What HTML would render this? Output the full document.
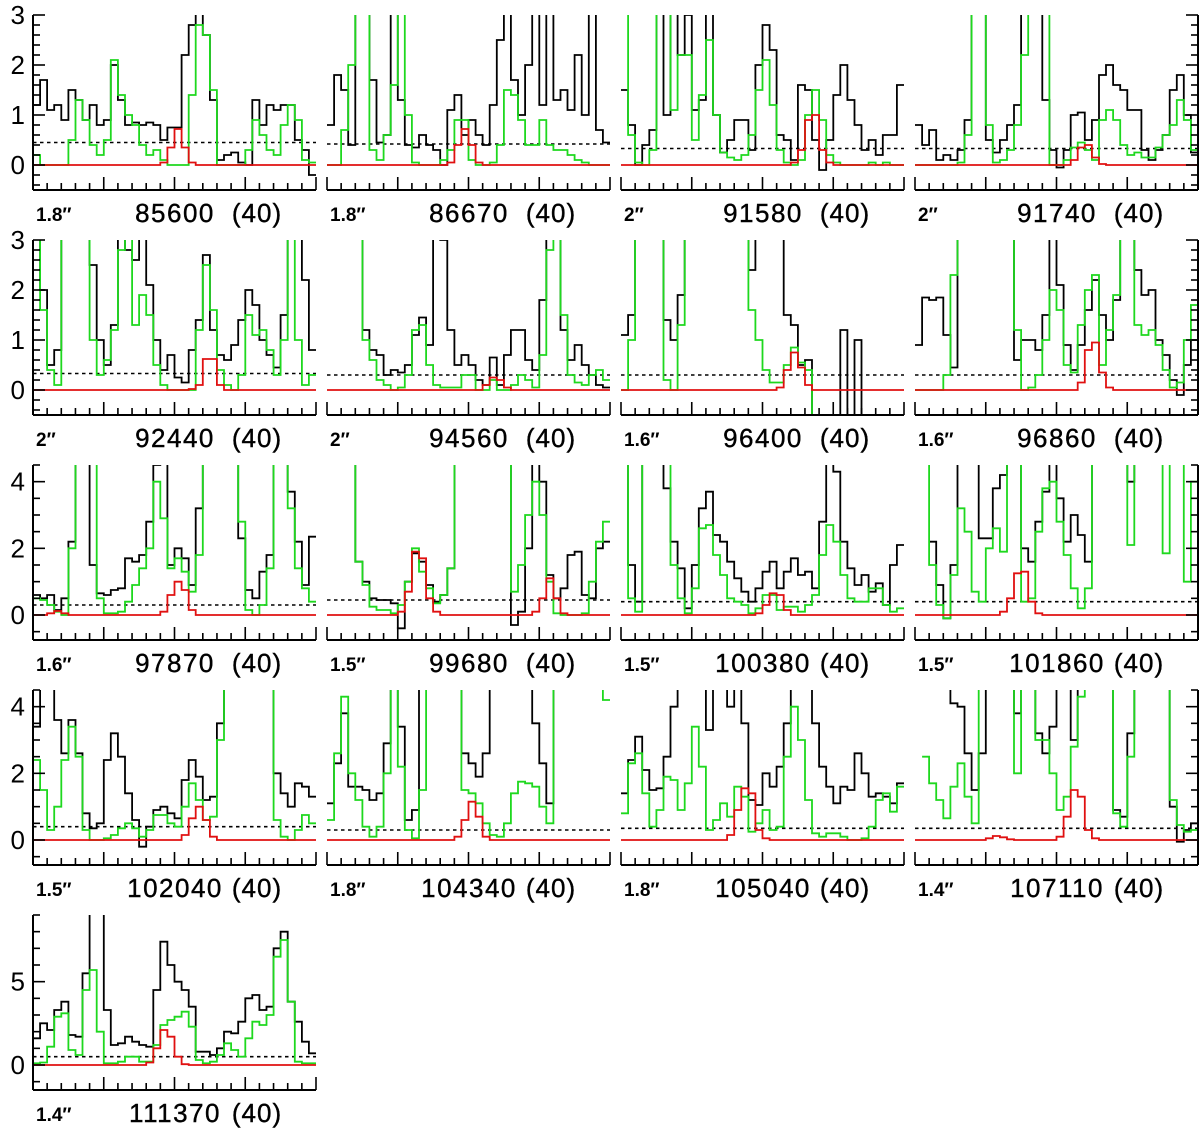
<!DOCTYPE html>
<html><head><meta charset="utf-8"><style>
html,body{margin:0;padding:0;background:#fff;}
svg{display:block;font-family:"Liberation Sans",sans-serif;}
</style></head><body>
<svg id="chart" width="1200" height="1129" viewBox="0 0 1200 1129" xmlns="http://www.w3.org/2000/svg"></svg>
<script>
const panelFreqs = [85600,86670,91580,91740,92440,94560,96400,96860,97870,99680,100380,101860,102040,104340,105040,107110,111370];
const panelBeams = ["1.8","1.8","2","2","2","2","1.6","1.6","1.6","1.5","1.5","1.5","1.5","1.8","1.8","1.4","1.4"];
const noiseLevels = [0.45,0.42,0.33,0.33,0.33,0.3,0.3,0.3,0.3,0.45,0.4,0.4,0.4,0.3,0.35,0.35,0.5];
const rowRanges = [[-0.5,3],[-0.5,3],[-0.75,4.5],[-0.75,4.5],[-1.5,9]];
const rowTickLabels = [[0,1,2,3],[0,1,2,3],[0,2,4],[0,2,4],[0,5]];
const blackFlux = [
[1.2,1.7,1.1,1.2,0.9,1.5,1.3,0.9,1.2,0.8,0.9,2.0,1.3,0.8,0.85,0.8,0.85,0.8,0.5,0.75,0.75,2.2,2.8,3.5,2.6,1.3,0.1,0.2,0.25,0.05,0.0,1.3,0.8,1.2,1.1,1.2,1.2,0.5,0.3,-0.2],
[0.8,1.8,1.5,0.4,3.5,3.5,1.7,0.45,0.6,3.5,1.3,0.4,0.35,0.6,0.4,0.3,0.0,1.1,1.4,0.6,0.9,0.6,0.4,1.2,2.5,3.5,1.7,1.0,2.0,3.5,1.2,3.5,1.3,1.5,1.1,2.2,1.0,3.5,0.7,0.45],
[1.5,0.8,0.0,0.4,0.7,3.5,1.0,3.5,2.2,3.0,1.1,1.3,3.5,1.0,0.25,0.5,0.9,0.9,0.3,2.0,2.8,2.3,0.6,0.5,0.1,1.6,1.5,0.5,-0.1,0.5,1.4,2.0,1.3,0.8,0.3,0.5,0.2,0.6,0.6,1.6],
[0.8,0.4,0.7,0.1,0.2,0.1,0.3,0.9,3.5,3.5,0.5,0.25,0.5,0.8,1.2,3.5,3.5,3.5,1.3,0.3,-0.05,0.3,1.0,1.05,0.5,0.9,1.8,2.0,1.6,1.5,1.1,1.1,0.3,0.1,0.3,0.6,1.5,1.8,1.0,0.25],
[3.5,2.0,0.5,0.8,3.5,3.5,3.5,3.5,2.5,1.0,0.5,1.3,3.5,2.8,2.6,3.5,2.1,1.0,0.4,0.7,0.25,0.15,0.8,1.4,2.7,1.2,0.7,0.6,0.9,1.4,2.0,1.7,1.0,0.7,0.45,1.5,3.5,3.5,2.2,0.8],
[null,null,null,null,3.5,1.2,0.8,0.7,0.3,0.4,0.35,0.5,1.1,1.45,0.9,3.5,3.0,1.2,0.5,0.7,0.5,0.2,0.1,0.65,0.1,0.7,1.2,1.2,0.6,0.4,1.8,3.5,3.5,1.2,0.6,0.9,0.5,0.3,0.1,0.05],
[1.1,1.5,3.5,3.5,3.5,3.5,1.4,1.0,1.9,3.5,3.5,3.5,3.5,3.5,3.5,3.5,3.5,3.5,2.4,3.5,3.5,3.5,3.5,1.5,1.3,0.5,0.6,-1,-1,-1,-1,1.2,-1,1.0,-1,null,null,null,null,null],
[0.9,1.85,1.8,1.85,1.1,0.45,3.5,3.5,3.5,3.5,3.5,3.5,3.5,3.5,0.6,1.0,1.0,0.8,1.5,3.5,2.1,0.9,0.4,0.9,1.6,2.2,1.5,1.0,1.8,3.5,3.5,2.4,1.9,2.0,1.0,0.7,0.2,-0.1,0.5,1.0],
[0.6,0.5,0.6,0.15,0.5,2.2,5,5,1.5,0.65,0.6,0.75,0.8,1.7,1.6,1.8,2.8,4.5,5,1.5,2.0,1.7,0.9,3.2,5,5,5,5,5,2.3,0.75,0.5,1.3,1.8,5,5,3.7,2.2,0.9,2.35],
[null,null,null,5,1.6,1.0,0.5,0.45,0.45,0.35,-0.4,1.0,1.85,1.6,0.9,0.4,0.6,1.4,5,5,5,5,5,5,5,5,-0.3,0.1,2.0,5,4.0,1.2,0.5,0.8,1.8,1.9,0.6,0.5,2.0,2.2],
[5,1.5,0.4,5,5,5,3.8,2.2,1.4,0.2,1.5,3.2,3.7,2.4,2.2,1.6,1.1,0.7,0.4,0.8,1.3,1.6,0.8,1.3,1.7,1.2,1.3,0.8,2.8,5,4.3,2.2,1.4,0.9,1.2,0.7,0.95,0.3,1.5,2.1],
[null,null,2.2,0.9,-0.1,1.5,5,5,5,2.3,2.3,3.8,4.2,5,5,2.0,1.6,2.8,3.7,5,3.5,2.2,3.0,2.4,1.6,5,5,5,5,5,4.0,5,5,5,5,5,5,5,5,5],
[3.4,5,5,3.6,2.6,3.6,2.6,0.8,0.35,0.5,2.4,3.2,2.5,1.4,0.6,-0.2,0.4,0.9,1.0,0.8,0.65,1.8,2.4,1.9,1.2,1.3,3.5,5,5,5,5,5,5,5,2.0,1.4,1.0,1.7,1.6,1.3],
[1.1,2.3,3.8,1.6,1.6,1.5,1.2,1.4,2.9,5,3.4,0.6,0.9,5,5,5,5,5,5,2.6,2.3,1.9,2.6,5,5,5,5,5,5,3.5,2.3,1.1,5,5,5,5,5,5,5,5],
[1.4,2.4,3.1,2.1,1.5,1.55,2.5,4.0,5,5,5,5,3.3,5,5,4.0,5,3.5,1.2,1.05,2.0,1.6,2.2,3.5,5,5,5,3.5,2.2,1.6,1.1,1.6,1.5,2.6,2.0,1.3,1.4,1.3,1.1,1.7],
[null,5,5,5,5,4.1,4.0,2.6,1.5,2.6,5,5,5,5,3.8,5,5,3.2,2.6,3.4,5,5,3.0,5,5,5,5,5,0.9,0.7,3.2,5,5,5,5,5,1.0,-0.05,0.3,0.5],
[1.6,2.5,2.1,3.3,3.8,1.8,1.7,5.5,9.5,9.5,3.3,1.2,1.3,1.7,1.4,1.2,1.1,4.5,7.4,6.0,5.0,4.5,3.5,0.8,0.8,0.6,1.0,2.0,1.9,2.6,4.0,4.2,3.3,3.5,7.0,8.0,3.8,2.6,1.4,0.7]
];
const greenFlux = [
[0.2,0,0,0,0,0.5,1.3,0.9,0.4,0.2,0.5,2.1,1.4,1.0,0.8,0.4,0.2,0.3,0.1,0,0,0,1.4,2.8,2.6,1.5,0,0,0,0,0.3,0.9,0.6,0.3,0.2,0.8,1.2,0.9,0.1,0.05],
[0,0,0.7,2.0,3.5,3.5,0.3,0.1,0.6,1.6,3.5,1.0,0.05,0,0,0,0.1,0.3,0.9,0.9,0.1,0,0,0.05,0.4,1.5,1.4,0.9,0.4,0.4,0.9,0.4,0.3,0.3,0.2,0.1,0.05,0,0,0],
[3.5,0.6,0.05,0,0.3,3.5,3.5,1.1,2.2,2.2,0.5,1.4,2.5,1.0,0.25,0.15,0.1,0.2,0.6,1.5,2.1,1.2,0.3,0.05,0,0.1,1.0,1.5,0.9,0.2,0.05,0,0,0,0,0.05,0,0.05,0,0],
[0,0,0,0,0,0,0.05,0.6,3.5,3.5,0.8,0.05,0.1,0.3,0.8,2.2,3.5,3.5,3.5,0.0,0,0.1,0.35,0.45,0.3,0.1,0.9,1.1,0.9,0.4,0.2,0.25,0.15,0.15,0.35,0.6,0.8,1.3,0.9,0.3],
[3.5,1.6,0.4,0.1,3.5,3.5,3.5,3.5,1.0,0.3,0.6,1.2,2.8,3.5,1.3,1.9,1.5,0.5,0.1,0,0,0,0,1.2,2.5,1.6,0.4,0.1,0,0.3,1.5,1.1,1.2,0.8,0.3,1.0,3.5,1.0,0.1,0.3],
[null,null,null,null,3.5,1.0,0.6,0.2,0.1,0,0.05,0.3,1.2,1.3,0.5,0.1,0.05,0.05,0.05,0.3,0.3,0,0,0.2,0,0,0.1,0.3,0.2,0.05,0.7,2.8,3.5,1.5,0.3,0.15,0.1,0.3,0.4,0.2],
[0,1.0,3.5,3.5,3.5,3.5,0.2,0.0,1.3,3.5,3.5,3.5,3.5,3.5,3.5,3.5,3.5,3.5,1.6,1.0,0.4,0.15,0.15,0.5,0.85,0.55,0.4,-1,null,null,null,null,null,null,null,null,null,null,null,null],
[0,0,0,0,0.3,2.3,3.5,3.5,3.5,3.5,3.5,3.5,3.5,3.5,1.2,0,0.05,0.3,1.0,2.0,1.6,0.5,0.35,1.3,2.0,2.3,0.5,1.2,1.9,3.5,3.5,1.3,1.1,1.2,0.9,0.4,0.05,0.15,1.0,1.7],
[0.5,0.45,0.3,0.1,0.0,2.0,5,5,5,0.5,0.05,0.05,0.1,0.4,0.9,1.4,2.0,4.0,2.9,1.4,1.7,1.3,0.7,1.8,5,5,5,5,5,2.8,0.15,0,0.3,1.4,5,5,3.2,1.4,0.8,0.4],
[null,null,null,5,1.6,0.9,0.25,0.15,0.15,0.05,0.3,1.0,2.0,1.3,0.8,0.35,0.6,1.4,5,5,5,5,5,5,5,5,0.7,1.5,3.0,4.0,3.0,1.0,0.05,0,0,0,0.05,1.0,2.2,2.8],
[5,0.5,0.1,5,5,5,5,1.5,0.5,0.05,0.8,2.6,2.7,1.8,1.2,0.5,0.4,0.3,0.05,0.2,0.6,0.6,0.15,0.25,0.25,0.1,0.3,0.6,1.8,2.7,2.2,1.2,0.5,0.4,0.4,0.8,0.8,0.3,0.1,0.2],
[null,5,1.5,0.3,-0.1,1.2,3.2,2.5,0.7,0.4,2.0,2.6,1.9,5,5,0.4,0.5,2.5,3.8,4.0,2.8,1.8,0.8,0.2,0.8,5,5,5,5,5,2.1,5,5,5,5,1.85,5,5,1.0,4.0],
[2.4,1.5,0.3,1.0,2.4,3.4,2.5,0.3,0,0,0.05,0.15,0.35,0.5,0.35,0.1,0.3,0.75,0.75,0.5,0.4,1.0,1.7,1.2,0.6,0.7,3.0,5,5,5,5,5,5,5,0.6,0.1,0,0.3,0.75,0.5],
[0.6,2.6,4.3,2.0,1.2,0.4,0.1,0.4,2.0,5,2.2,0.3,0.05,1.5,5,5,5,5,5,1.5,1.4,1.1,0.5,0.15,0.1,0.5,1.4,1.75,1.7,1.6,1.0,0.5,5,5,5,5,5,5,5,4.2],
[0.8,2.3,2.6,1.4,0.4,0.9,1.9,1.8,0.9,1.7,3.4,2.2,0.3,0.6,1.1,0.7,1.6,1.3,0.25,0.5,0.9,0.3,0.4,2.5,4.0,3.0,1.2,0.2,0.1,0.2,0.2,0.1,0,0,0.05,0.4,1.2,1.4,0.85,1.6],
[null,2.5,1.7,1.2,0.65,1.6,2.3,1.3,0.5,5,5,5,5,5,2.0,5,5,3.0,3.0,2.0,0.9,1.3,2.8,4.3,5,5,5,5,0.8,0.4,2.5,5,5,5,5,5,1.2,0.45,0.25,0.3],
[0.1,0.15,1.1,2.9,3.1,0.9,0.6,4.5,5.7,2.0,0.1,0.1,0.2,0.5,0.5,0.2,0.2,1.2,2.4,2.7,2.9,3.2,2.3,0.3,0.1,0.2,0.6,1.3,0.9,0.5,1.6,2.6,2.4,3.0,6.5,7.5,3.8,0.2,0.1,0.1]
];
const redPeaks = [
[[18,[0.05,0.35,0.72,0.35,0.05]]],
[[17,[0.05,0.4,0.72,0.4,0.05]]],
[[24,[0.05,0.3,0.9,1.0,0.3,0.05]]],
[[22,[0.1,0.35,0.4,0.15,0.02]]],
[[22,[0.02,0.1,0.62,0.62,0.1]]],
[[22,[0.1,0.25,0.2,0.05]]],
[[22,[0.05,0.4,0.75,0.45,0.1]]],
[[23,[0.15,0.8,0.95,0.35,0.05]]],
[[2,[0.05,0.12,0.05]],[18,[0.1,0.6,1.0,0.75,0.15]]],
[[10,[0.1,0.7,1.9,1.7,0.5,0.1]],[29,[0.1,0.5,1.1,0.5,0.05]]],
[[19,[0.05,0.3,0.65,0.6,0.15]]],
[[12,[0.1,0.5,1.25,1.3,0.4,0.05]]],
[[21,[0.15,0.65,1.0,0.6,0.1]]],
[[18,[0.1,0.6,1.15,0.7,0.1]]],
[[15,[0.15,0.9,1.55,1.4,0.3,0.05]]],
[[10,[0.05,0.12,0.08,0.02]],[20,[0.1,0.7,1.5,1.3,0.3,0.05]]],
[[16,[0.15,1.0,2.1,1.7,0.5,0.05]]]
];

const NS = "http://www.w3.org/2000/svg";
const svg = document.getElementById('chart');
const W = 283, H = 175, NB = 40;
function mk(tag, attrs, parent){ const e=document.createElementNS(NS,tag); for(const k in attrs) e.setAttribute(k,attrs[k]); (parent||svg).appendChild(e); return e; }
const defs = mk('defs',{});

function stepPath(vals, xs, ys){
  let d = '', open = false;
  for(let k=0;k<vals.length;k++){
    const v = vals[k];
    if(v===null||v===undefined){ open=false; continue; }
    const xa = xs(k), xb = xs(k+1), y = ys(v);
    if(!open){ d += 'M'+xa.toFixed(1)+','+y.toFixed(1); open=true; }
    else d += 'L'+xa.toFixed(1)+','+y.toFixed(1);
    d += 'L'+xb.toFixed(1)+','+y.toFixed(1);
  }
  return d;
}

for(let p=0;p<panelFreqs.length;p++){
  const col = p%4, row = Math.floor(p/4);
  const x0 = 33 + 294*col, y0 = 15 + 225*row;
  const [ymin,ymax] = rowRanges[row];
  const xs = k => x0 + k*W/NB;
  const ys = v => y0 + (ymax - v)/(ymax-ymin)*H;
  const g = mk('g',{});
  
  

  const cp = mk('clipPath',{id:'cp'+p},defs);
  mk('rect',{x:x0,y:y0,width:W,height:H},cp);
  const plot = mk('g',{'clip-path':'url(#cp'+p+')'},g);

  const nl = mk('line',{x1:x0,x2:x0+W,y1:ys(noiseLevels[p]),y2:ys(noiseLevels[p]),stroke:'#000','stroke-width':1.6,'stroke-dasharray':'3.5,3.5'},plot);
  
  

  const bp = mk('path',{d:stepPath(blackFlux[p],xs,ys),fill:'none',stroke:'#000','stroke-width':1.8},plot);
  
  

  const gp = mk('path',{d:stepPath(greenFlux[p],xs,ys),fill:'none',stroke:'#1ed81e','stroke-width':1.8},plot);
  
  

  const red = new Array(NB).fill(0);
  redPeaks[p].forEach(pk => pk[1].forEach((v,i)=>{ red[pk[0]+i] = v; }));
  const rp = mk('path',{d:stepPath(red,xs,ys),fill:'none',stroke:'#e01010','stroke-width':1.8},plot);
  
  

  const ax = mk('g',{},g);
  
  
  const yb = y0+H;
  mk('line',{x1:x0,x2:x0+W,y1:yb,y2:yb,stroke:'#000','stroke-width':2},ax);
  for(let k=0;k<=20;k++){
    const tx = x0 + k*W/20, len = (k%5===0)?13:7;
    mk('line',{x1:tx,x2:tx,y1:yb,y2:yb-len,stroke:'#000','stroke-width':1.6},ax);
  }
  const minor = row<2?0.2:(row<4?0.5:1);
  const majorEvery = row<2?1:(row<4?2:5);
  function yAxis(xa, dir){
    const ya = mk('g',{},g);
    
    
    mk('line',{x1:xa,x2:xa,y1:y0,y2:yb,stroke:'#000','stroke-width':2},ya);
    const n0 = Math.ceil(ymin/minor-1e-6), n1 = Math.floor(ymax/minor+1e-6);
    for(let n=n0;n<=n1;n++){
      const v = n*minor;
      const isMaj = Math.abs(v/majorEvery - Math.round(v/majorEvery))<1e-6;
      const len = isMaj?12:7;
      mk('line',{x1:xa,x2:xa+dir*len,y1:ys(v),y2:ys(v),stroke:'#000','stroke-width':1.6},ya);
    }
  }
  if(col===0) yAxis(x0,1);
  if(col===3) yAxis(x0+W,-1);
  if(col===0){
    rowTickLabels[row].forEach(v=>{
      const t = mk('text',{x:25,y:ys(v)+9,'text-anchor':'end','font-size':26,fill:'#000'},g);
      t.textContent = v;
      
      
    });
  }
  const tb = mk('text',{x:x0+3,y:yb+31,'font-size':19,'font-weight':'bold',fill:'#000'},g);
  tb.textContent = panelBeams[p]+'\u2033';
  
  
  const tf = mk('text',{x:x0+142,y:yb+32,'text-anchor':'middle','font-size':26,'letter-spacing':1.5,fill:'#000',stroke:'#000','stroke-width':0.4},g);
  tf.textContent = panelFreqs[p];
  
  
  const tw = mk('text',{x:x0+224,y:yb+32,'text-anchor':'middle','font-size':26,'letter-spacing':1,fill:'#000',stroke:'#000','stroke-width':0.4},g);
  tw.textContent = '(40)';
  
  
}
</script>
</body></html>
